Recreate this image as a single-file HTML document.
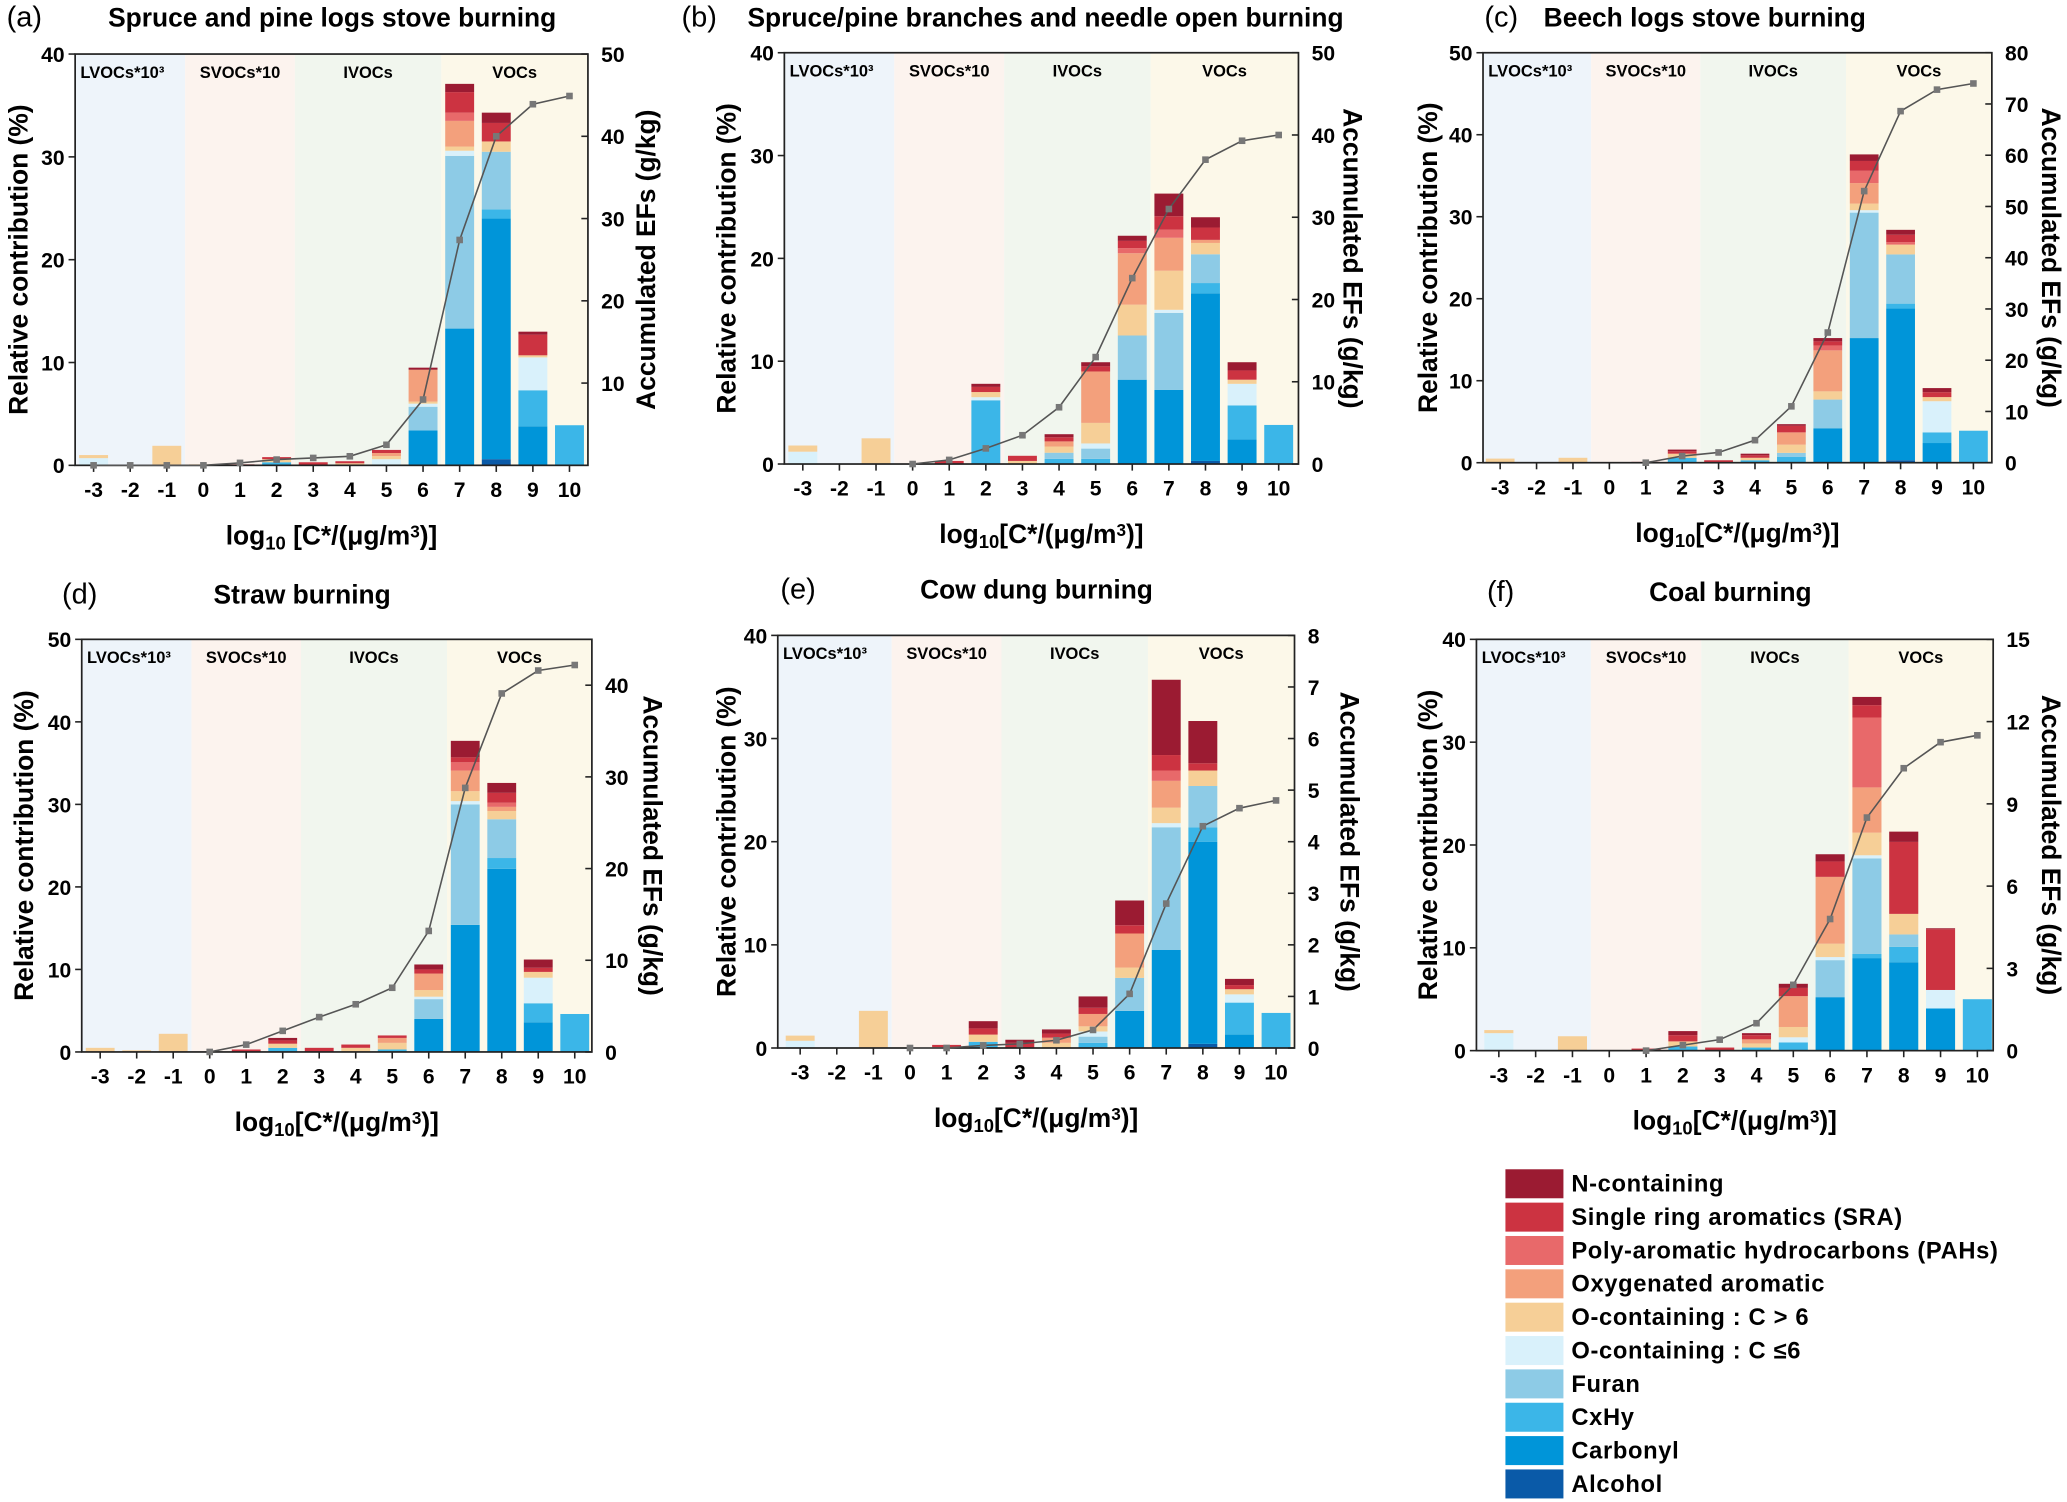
<!DOCTYPE html>
<html><head><meta charset="utf-8"><style>
html,body{margin:0;padding:0;background:#fff}
svg{display:block}
text{font-family:"Liberation Sans",Arial,sans-serif}
</style></head><body>
<svg id="fig" width="2067" height="1502" viewBox="0 0 1568 1139.4" preserveAspectRatio="none" xmlns="http://www.w3.org/2000/svg"></svg>
<script>
// categories
const bins = [-3,-2,-1,0,1,2,3,4,5,6,7,8,9,10];
const components = ["Alcohol","Carbonyl","CxHy","Furan","O-containing : C ≤6","O-containing : C > 6","Oxygenated aromatic","Poly-aromatic hydrocarbons (PAHs)","Single ring aromatics (SRA)","N-containing"];
const compColors = ["#0a5aa8","#0095d9","#3bb6e8","#8dcbe6","#d9f1fb","#f6cf97","#f3a07c","#e8696a","#cc3341","#9b1b32"];
// stacked values per bin [Alc,Carb,CxHy,Furan,O<=6,O>6,OxyAr,PAH,SRA,N]
const barsA = [[0,0,0,0,0.7,0.3,0,0,0,0],[0,0,0,0,0,0,0,0,0,0],[0,0,0,0,0,1.9,0,0,0,0],[0,0,0,0,0,0.1,0,0,0,0],[0,0,0,0,0,0,0,0,0.1,0],[0,0,0.3,0,0,0.3,0,0,0.2,0],[0,0,0,0,0,0,0,0,0.3,0],[0,0,0,0,0,0.2,0,0,0.2,0],[0,0,0,0,0.6,0.3,0.3,0,0.3,0],[0,3.4,0,2.3,0.3,0.2,3.1,0,0,0.2],[0,13.3,0,16.8,0.5,0.4,2.5,0.8,2.0,0.8],[0.6,23.4,0.9,5.6,0,1.0,0,0,1.8,1.0],[0,3.8,3.5,0,3.2,0.2,0,0,2.0,0.3],[0,0,3.9,0,0,0,0,0,0,0]];
const barsB = [[0,0,0,0,1.2,0.6,0,0,0,0],[0,0,0,0,0,0,0,0,0,0],[0,0,0,0,0,2.5,0,0,0,0],[0,0,0,0,0,0,0,0,0,0],[0,0,0,0,0,0,0,0,0.3,0],[0,0,6.2,0,0.3,0.5,0,0,0.5,0.3],[0,0,0,0,0,0.3,0,0,0.5,0],[0,0,0.5,0.6,0,0.6,0.5,0,0.4,0.3],[0,0,0.5,1.0,0.5,2.0,5.0,0,0.5,0.4],[0,8.2,0,4.3,0,3.0,5.0,0.5,0.7,0.5],[0,7.2,0,7.5,0.3,3.8,3.2,0.8,1.3,2.2],[0.3,16.3,1.0,2.8,0,1.1,0.3,0,1.2,1.0],[0,2.4,3.3,0,2.1,0.4,0,0,0.9,0.8],[0,0,3.8,0,0,0,0,0,0,0]];
const barsC = [[0,0,0,0,0,0.5,0,0,0,0],[0,0,0,0,0,0,0,0,0,0],[0,0,0,0,0,0.6,0,0,0,0],[0,0,0,0,0,0,0,0,0,0],[0,0,0,0,0,0,0,0,0.1,0],[0,0,0.6,0,0,0.5,0,0,0.3,0.2],[0,0,0,0,0,0,0,0,0.3,0],[0,0,0.3,0,0,0.3,0,0,0.3,0.2],[0,0,0.7,0.5,0,1.0,1.5,0,0.8,0.2],[0,4.2,0,3.5,0,1.0,5.0,0.6,0.5,0.4],[0,15.2,0,15.3,0.3,0.8,2.5,1.5,1.2,0.8],[0.3,18.5,0.6,6.0,0,1.2,0,0.3,0.9,0.6],[0,2.4,1.3,0,3.8,0.5,0,0,0.6,0.5],[0,0,3.9,0,0,0,0,0,0,0]];
const barsD = [[0,0,0,0,0,0.5,0,0,0,0],[0,0,0,0,0,0.2,0,0,0,0],[0,0,0,0,0,2.2,0,0,0,0],[0,0,0,0,0,0,0,0,0,0],[0,0,0,0,0,0,0,0,0.3,0],[0,0,0.5,0,0,0.5,0,0,0.4,0.3],[0,0,0,0,0,0,0,0,0.5,0],[0,0,0,0,0,0.5,0,0,0.4,0],[0,0,0.3,0,0,0.8,0.6,0,0.3,0],[0,4.0,0,2.4,0.3,0.8,2.0,0,0.5,0.6],[0,15.4,0,14.6,0.4,1.2,2.5,1.0,0.6,2.0],[0,22.2,1.3,4.7,0,1.0,0.5,0.5,1.2,1.2],[0,3.6,2.3,0,3.1,0.7,0,0,0.5,1.0],[0,0,4.6,0,0,0,0,0,0,0]];
const barsE = [[0,0,0,0,0.7,0.5,0,0,0,0],[0,0,0,0,0,0,0,0,0,0],[0,0,0,0,0,3.6,0,0,0,0],[0,0,0,0,0,0,0,0,0,0],[0,0,0,0,0,0,0,0,0.3,0],[0,0,0.6,0,0,0.7,0,0,0.6,0.7],[0,0,0,0,0,0,0,0,0.5,0.3],[0,0,0,0,0,0.5,0.5,0,0.4,0.4],[0,0,0.5,0.6,0.5,0.5,1.2,0,0.6,1.1],[0,3.6,0,3.2,0,1.0,3.3,0,0.8,2.4],[0,9.5,0,11.9,0.4,1.5,2.6,1.0,1.5,7.3],[0.4,19.6,1.4,4.0,0,1.5,0,0,0.7,4.1],[0,1.3,3.1,0,0.8,0.5,0,0,0.4,0.6],[0,0,3.4,0,0,0,0,0,0,0]];
const barsF = [[0,0,0,0,1.7,0.3,0,0,0,0],[0,0,0,0,0,0,0,0,0,0],[0,0,0,0,0,1.4,0,0,0,0],[0,0,0,0,0,0,0,0,0,0],[0,0,0,0,0,0,0,0,0.2,0],[0,0,0.4,0,0,0.5,0,0,0.6,0.4],[0,0,0,0,0,0,0,0,0.3,0],[0,0,0.3,0,0,0.4,0.4,0,0.4,0.2],[0,0,0.8,0,0.5,1.0,3.0,0,0.8,0.4],[0,5.2,0,3.6,0.3,1.3,6.5,0,1.5,0.7],[0,9.0,0.4,9.3,0.3,2.2,4.4,6.8,1.2,0.8],[0,8.6,1.5,1.2,0,2.0,0,0,7.0,1.0],[0,4.1,0,0,1.8,0,0,0,5.9,0.1],[0,0,5.0,0,0,0,0,0,0,0]];
// accumulated EFs (right axis)
const lineA = [0,0,0,0,0.3,0.7,0.9,1.1,2.5,8,27.4,40,43.9,44.9];
const lineB = [null,null,null,0,0.5,1.9,3.5,6.9,13,22.6,31,37,39.3,40];
const lineC = [null,null,null,null,0,1.3,2,4.4,11,25.4,53,68.6,72.8,74];
const lineD = [null,null,null,0,0.8,2.3,3.8,5.2,7,13.2,28.8,39.1,41.6,42.2];
const lineE = [null,null,null,0,0,0.05,0.08,0.15,0.35,1.05,2.8,4.3,4.65,4.8];
const lineF = [null,null,null,null,0,0.2,0.4,1,2.4,4.8,8.5,10.3,11.25,11.5];
const leftTicksA = [0,10,20,30,40];
const leftTicksC = [0,10,20,30,40,50];
const rightTicksA = [10,20,30,40,50];
const rightTicksB = [0,10,20,30,40,50];
const rightTicksC = [0,10,20,30,40,50,60,70,80];
const rightTicksD = [0,10,20,30,40];
const rightTicksE = [0,1,2,3,4,5,6,7,8];
const rightTicksF = [0,3,6,9,12,15];
const regionNames = ["LVOCs*10³","SVOCs*10","IVOCs","VOCs"];

const NS="http://www.w3.org/2000/svg";
const svg=document.getElementById('fig');
function mk(tag,attrs,parent,txt){const e=document.createElementNS(NS,tag);for(const k in attrs)e.setAttribute(k,attrs[k]);if(txt!==undefined)e.textContent=txt;(parent||svg).appendChild(e);return e;}

const panels=[
 {id:'a',L:57,R:446,T:41,B:353,x0:71,x1:432,ymax:40,lt:leftTicksA,rmax:50,rt:rightTicksA,bars:barsA,line:lineA,tag:'(a)',tagX:5,title:'Spruce and pine logs stove burning',titleX:82,titleY:20,rdir:-1,ytX:14,rtX:490},
 {id:'b',L:595,R:985,T:40,B:352,x0:609,x1:970,ymax:40,lt:leftTicksA,rmax:50,rt:rightTicksB,bars:barsB,line:lineB,tag:'(b)',tagX:517,title:'Spruce/pine branches and needle open burning',titleX:567,titleY:20,rdir:1,ytX:551,rtX:1026},
 {id:'c',L:1125,R:1511,T:40,B:351,x0:1138,x1:1497,ymax:50,lt:leftTicksC,rmax:80,rt:rightTicksC,bars:barsC,line:lineC,tag:'(c)',tagX:1126,title:'Beech logs stove burning',titleX:1171,titleY:20,rdir:1,ytX:1083,rtX:1556},
 {id:'d',L:62,R:449,T:485,B:798,x0:76,x1:436,ymax:50,lt:leftTicksC,rmax:45,rt:rightTicksD,bars:barsD,line:lineD,tag:'(d)',tagX:47,title:'Straw burning',titleX:162,titleY:458,rdir:1,ytX:18,rtX:495},
 {id:'e',L:590,R:982,T:482,B:795,x0:607,x1:968,ymax:40,lt:leftTicksA,rmax:8,rt:rightTicksE,bars:barsE,line:lineE,tag:'(e)',tagX:592,title:'Cow dung burning',titleX:698,titleY:454,rdir:1,ytX:551,rtX:1024},
 {id:'f',L:1120,R:1512,T:485,B:797,x0:1137,x1:1500,ymax:40,lt:leftTicksA,rmax:15,rt:rightTicksF,bars:barsF,line:lineF,tag:'(f)',tagX:1128,title:'Coal burning',titleX:1251,titleY:456,rdir:1,ytX:1083,rtX:1556}
];
const regionColors=["#eef4fa","#fcf3ee","#f1f6ee","#fcf8e9"];
const bounds=[-0.5,2.5,6.5];

panels.forEach(p=>{
  const g=mk('g',{});
  
  
  const step=(p.x1-p.x0)/13;
  const xs=v=>p.x0+(v+3)*step;
  const ys=v=>p.B-(v/p.ymax)*(p.B-p.T);
  const yr=v=>p.B-(v/p.rmax)*(p.B-p.T);
  const edges=[p.L,xs(bounds[0]),xs(bounds[1]),xs(bounds[2]),p.R];
  for(let i=0;i<4;i++){
    const r=mk('rect',{x:edges[i],y:p.T,width:edges[i+1]-edges[i],height:p.B-p.T,fill:regionColors[i]},g);
    
    
    const t=mk('text',{x:i==0?p.L+4:(edges[i]+edges[i+1])/2,y:p.T+18,'font-size':12.5,'font-weight':'bold','text-anchor':i==0?'start':'middle'},g,regionNames[i]);
    
    
  }
  const bw=step*0.79;
  p.bars.forEach((stack,bi)=>{
    let acc=0;
    stack.forEach((v,ci)=>{
      if(v<=0)return;
      const y1=ys(acc),y2=ys(acc+v);
      const r=mk('rect',{x:xs(bins[bi])-bw/2,y:y2,width:bw,height:y1-y2,fill:compColors[ci]},g);
      
      
      acc+=v;
    });
  });
  mk('rect',{x:p.L,y:p.T,width:p.R-p.L,height:p.B-p.T,fill:'none',stroke:'#222','stroke-width':1.3},g);
  p.lt.forEach(v=>{
    mk('line',{x1:p.L-5,x2:p.L,y1:ys(v),y2:ys(v),stroke:'#222','stroke-width':1.2},g);
    const t=mk('text',{x:p.L-8,y:ys(v)+6,'font-size':16,'font-weight':'bold','text-anchor':'end'},g,v);
    
    
  });
  p.rt.forEach(v=>{
    mk('line',{x1:p.R,x2:p.R-5,y1:yr(v),y2:yr(v),stroke:'#222','stroke-width':1.2},g);
    const t=mk('text',{x:p.R+10,y:yr(v)+6,'font-size':16,'font-weight':'bold','text-anchor':'start'},g,v);
    
    
  });
  bins.forEach(b=>{
    mk('line',{x1:xs(b),x2:xs(b),y1:p.B,y2:p.B+5,stroke:'#222','stroke-width':1.2},g);
    const t=mk('text',{x:xs(b),y:p.B+24,'font-size':16,'font-weight':'bold','text-anchor':'middle'},g,b);
    
    
  });
  const pts=[];
  p.line.forEach((v,i)=>{if(v!==null)pts.push([xs(bins[i]),yr(v)]);});
  const pl=mk('polyline',{points:pts.map(q=>q.join(',')).join(' '),fill:'none',stroke:'#555','stroke-width':1.2},g);
  
  
  pts.forEach(q=>{
    const m=mk('rect',{x:q[0]-2.5,y:q[1]-2.5,width:5,height:5,fill:'#777'},g);
    
    
  });
  const tg=mk('text',{x:p.tagX,y:p.titleY,'font-size':22},g,p.tag);
  
  
  const tt=mk('text',{x:p.titleX,y:p.titleY,'font-size':20,'font-weight':'bold'},g,p.title);
  
  
  const cy=(p.T+p.B)/2;
  const yt=mk('text',{x:p.ytX,y:cy,'font-size':20,'font-weight':'bold','text-anchor':'middle',transform:`rotate(-90 ${p.ytX} ${cy})`,dy:7},g,'Relative contribution (%)');
  
  
  const rt=mk('text',{x:p.rtX,y:cy,'font-size':20,'font-weight':'bold','text-anchor':'middle',transform:`rotate(${p.rdir*90} ${p.rtX} ${cy})`,dy:7},g,'Accumulated EFs (g/kg)');
  
  
  const xt=mk('text',{x:(p.L+p.R)/2,y:p.B+60,'font-size':20,'font-weight':'bold','text-anchor':'middle'},g);
  
  
  const parts=[['log',0],['10',1],[p.id==='a'?' [C*/(μg/m':'[C*/(μg/m',0],['3',2],[')]',0]];
  parts.forEach(([s,k])=>{const ts=mk('tspan',{},xt,s);if(k===1){ts.setAttribute('baseline-shift','-30%');ts.setAttribute('font-size',14);}if(k===2){ts.setAttribute('baseline-shift','40%');ts.setAttribute('font-size',13);}});
});

const lg=mk('g',{});


for(let i=9;i>=0;i--){
  const row=9-i;const y=887+row*25.3;
  const r=mk('rect',{x:1142,y:y,width:44,height:22,fill:compColors[i]},lg);
  
  
  const t=mk('text',{x:1192,y:y+17,'font-size':18,'font-weight':'bold','letter-spacing':0.5},lg,components[i]);
  
  
}
</script>
</body></html>
